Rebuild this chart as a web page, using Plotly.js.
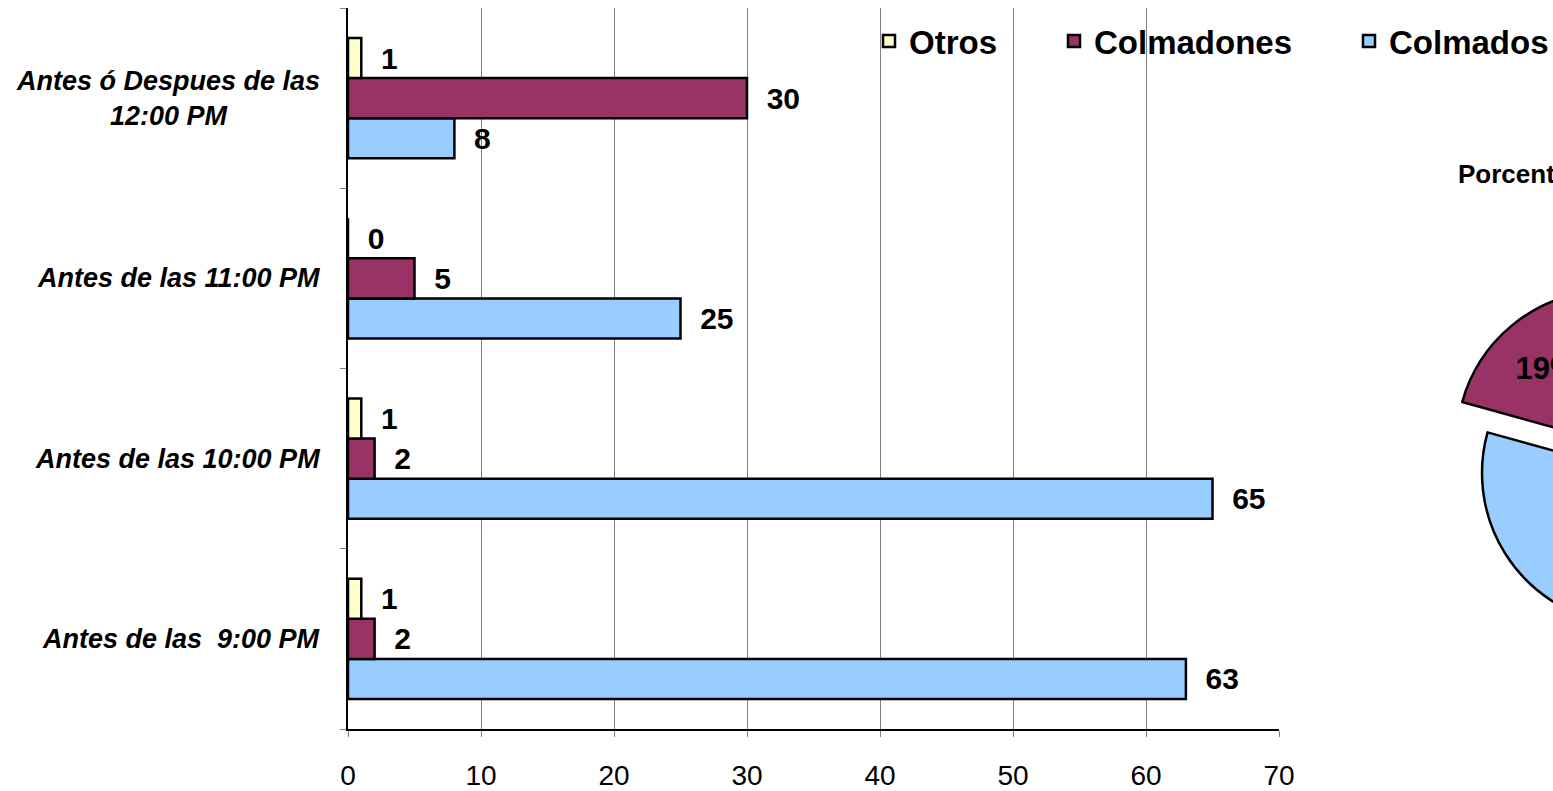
<!DOCTYPE html>
<html>
<head>
<meta charset="utf-8">
<script src="https://cdn.plot.ly/plotly-3.0.1.min.js"></script>
<style>
html,body{margin:0;padding:0;overflow:hidden;background:#fff;width:1553px;height:791px;}
#chart{width:1900px;height:791px;}
</style>
</head>
<body>
<div id="chart"></div>
<script>
// ---- data ----
var categories = ["Antes de las \u00a09:00 PM", "Antes de las 10:00 PM", "Antes de las 11:00 PM", "Antes ó Despues de las<br>12:00 PM"];
var colmados   = [63, 65, 25, 8];
var colmadones = [2, 2, 5, 30];
var otros      = [1, 1, 0, 1];
var pieLabels = ["Colmados", "Colmadones", "Otros"];
var xTicks = [0, 10, 20, 30, 40, 50, 60, 70];
var pieTitle = "Porcentaje";

function sum(a){return a.reduce(function(s,v){return s+v;},0);}
var pieValues = [sum(colmados), sum(colmadones), sum(otros)];

// ---- styling ----
var W = 1900, H = 791;
var FONT = "Liberation Sans, Arial, sans-serif";
var colors = {"Colmados":"#99CCFF","Colmadones":"#993366","Otros":"#FFFFCC"};
function px(x){return x/W;}
function py(y){return (H-y)/H;}

function barTrace(name, vals, legendId){
  return {
    type:"bar", orientation:"h", name:name, y:categories, x:vals,
    marker:{color:colors[name], line:{color:"#000", width:2.5}},
    text:vals, texttemplate:"\u00a0\u00a0%{x}", textposition:"outside",
    constraintext:"none", cliponaxis:false,
    textfont:{family:FONT, size:30, weight:"bold", color:"#000"},
    hoverinfo:"x+name", legend:legendId
  };
}

var traces = [
  barTrace("Colmados", colmados, "legend3"),
  barTrace("Colmadones", colmadones, "legend2"),
  barTrace("Otros", otros, "legend"),
  {
    type:"pie", labels:pieLabels, values:pieValues, sort:false,
    direction:"clockwise", rotation:0, pull:[0,0.26,0],
    marker:{colors:pieLabels.map(function(l){return colors[l];}), line:{color:"#000", width:2.5}},
    texttemplate:"%{percent:.0%}", textposition:"inside", insidetextorientation:"horizontal",
    textfont:{family:FONT, size:31, weight:"bold", color:"#000"},
    showlegend:false,
    domain:{x:[px(1442.5), px(1825.5)], y:[py(664.5), py(281.5)]}
  }
];

var legFont = {family:FONT, size:33, weight:"bold", color:"#000"};
function leg(xl){
  return {orientation:"h", x:px(xl), xanchor:"left", y:py(41), yanchor:"middle",
          font:legFont, bgcolor:"rgba(0,0,0,0)", borderwidth:0, itemwidth:30};
}

var annotations = categories.map(function(c){
  return {xref:"paper", yref:"y", x:px(322), y:c, xanchor:"right", yanchor:"middle",
          text:c, showarrow:false, align:"center",
          font:{family:FONT, size:27, weight:"bold", style:"italic", color:"#000"}};
});
annotations.push({xref:"paper", yref:"paper", x:px(1456), y:py(174), xanchor:"left", yanchor:"middle",
  text:pieTitle, showarrow:false, font:{family:FONT, size:26, weight:"bold", color:"#000"}});

var layout = {
  width:W, height:H,
  margin:{l:0, r:0, t:0, b:0, pad:0},
  paper_bgcolor:"#fff", plot_bgcolor:"#fff",
  barmode:"group", bargap:0.333, bargroupgap:0,
  font:{family:FONT, color:"#000"},
  showlegend:true,
  legend:leg(869), legend2:leg(1054), legend3:leg(1349),
  xaxis:{domain:[px(348), px(1279)], range:[0,70], tickvals:xTicks, ticktext:xTicks.map(String),
         showgrid:true, gridcolor:"#808080", gridwidth:1, zeroline:false,
         showline:true, linecolor:"#000", linewidth:2,
         ticks:"outside", ticklen:6, tickcolor:"#808080", tickwidth:1,
         tickfont:{family:FONT, size:28, color:"#000"}, ticklabelstandoff:14, fixedrange:true},
  yaxis:{domain:[py(729), py(8)], type:"category", categoryorder:"array", categoryarray:categories,
         showticklabels:false, showgrid:false, zeroline:false,
         showline:true, linecolor:"#000", linewidth:2,
         ticks:"outside", tickson:"boundaries", ticklen:6, tickcolor:"#808080", tickwidth:1, fixedrange:true},
  shapes:[{type:"rect", xref:"paper", yref:"paper", x0:px(870), x1:1, y0:py(87), y1:1,
           fillcolor:"#fff", line:{width:0}, layer:"between"}],
  annotations:annotations
};

Plotly.newPlot("chart", traces, layout, {displayModeBar:false, staticPlot:true});
</script>
</body>
</html>
